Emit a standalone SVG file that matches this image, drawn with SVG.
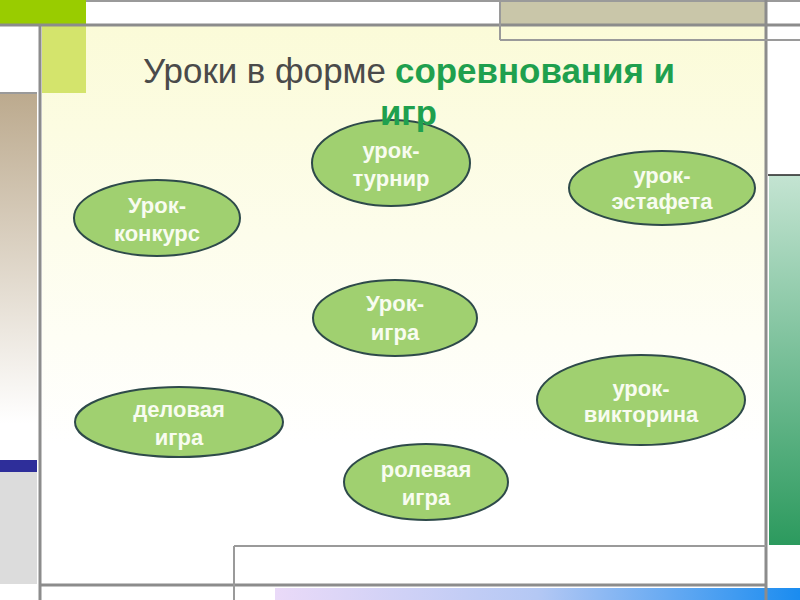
<svg xmlns="http://www.w3.org/2000/svg" width="800" height="600" viewBox="0 0 800 600">
  <defs>
    <linearGradient id="bgMain" x1="0" y1="0" x2="0" y2="1">
      <stop offset="0" stop-color="#fbfbd8"/>
      <stop offset="0.75" stop-color="#ffffff"/>
      <stop offset="1" stop-color="#ffffff"/>
    </linearGradient>
    <linearGradient id="tan" x1="0" y1="0" x2="0" y2="1">
      <stop offset="0" stop-color="#bcaa8e"/>
      <stop offset="0.9" stop-color="#ffffff"/>
      <stop offset="1" stop-color="#ffffff"/>
    </linearGradient>
    <linearGradient id="green" x1="0" y1="0" x2="0" y2="1">
      <stop offset="0" stop-color="#c4e4d2"/>
      <stop offset="1" stop-color="#2c9a5e"/>
    </linearGradient>
    <linearGradient id="bottomBar" x1="0" y1="0" x2="1" y2="0">
      <stop offset="0" stop-color="#eadaf8"/>
      <stop offset="0.5" stop-color="#b4c8f4"/>
      <stop offset="1" stop-color="#1a8cf0"/>
    </linearGradient>
    <style>
      .frame { fill: none; stroke: #8c8c8c; stroke-width: 3; }
      .thin { fill: none; stroke: #9a9a9a; stroke-width: 2; }
      .node ellipse { fill: #a0d070; stroke: #2e4a4a; stroke-width: 2; }
      .node text { fill: #f8fcf0; font-family: "Liberation Sans", Arial, sans-serif; font-weight: bold; font-size: 22px; text-anchor: middle; }
      .title { font-family: "Liberation Sans", Arial, sans-serif; font-size: 35px; }
    </style>
  </defs>

  <!-- background -->
  <rect x="0" y="0" width="800" height="600" fill="#ffffff"/>
  <rect x="42" y="25" width="724" height="559" fill="url(#bgMain)"/>
  <rect x="0" y="0" width="86" height="25" fill="#99cc00"/>
  <rect x="42" y="26" width="44" height="67" fill="#d4e46c"/>
  <rect x="500" y="2" width="266" height="23" fill="#c9c6a9"/>
  <rect x="0" y="94" width="37" height="366" fill="url(#tan)"/>
  <rect x="0" y="460" width="37" height="12" fill="#2e2e9a"/>
  <rect x="0" y="472" width="37" height="112" fill="#dcdcdc"/>
  <rect x="769" y="175" width="31" height="370" fill="url(#green)"/>
  <line x1="768" y1="175" x2="800" y2="175" stroke="#222222" stroke-width="1.5"/>
  <rect x="275" y="588" width="525" height="12" fill="url(#bottomBar)"/>

  <!-- frame lines -->
  <line class="thin" x1="86" y1="1" x2="800" y2="1"/>
  <line class="frame" x1="0" y1="25" x2="800" y2="25"/>
  <line class="frame" x1="40" y1="25" x2="40" y2="600"/>
  <line class="frame" x1="766" y1="0" x2="766" y2="600"/>
  <line class="thin" x1="500" y1="2" x2="500" y2="40"/>
  <line class="thin" x1="500" y1="40" x2="800" y2="40"/>
  <line class="frame" x1="40" y1="585" x2="766" y2="585"/>
  <line class="thin" x1="234" y1="546" x2="766" y2="546"/>
  <line class="thin" x1="234" y1="546" x2="234" y2="600"/>
  <line class="thin" x1="0" y1="93" x2="37" y2="93"/>

  <!-- nodes -->
  <g id="node-turnir" class="node">
    <ellipse cx="391" cy="163" rx="79" ry="43"/>
    <text x="391" y="158">урок-</text>
    <text x="391" y="186">турнир</text>
  </g>
  <g id="node-konkurs" class="node">
    <ellipse cx="157" cy="218" rx="83" ry="38"/>
    <text x="157" y="213">Урок-</text>
    <text x="157" y="241">конкурс</text>
  </g>
  <g id="node-estafeta" class="node">
    <ellipse cx="662" cy="188" rx="93" ry="37"/>
    <text x="662" y="183">урок-</text>
    <text x="662" y="209">эстафета</text>
  </g>
  <g id="node-igra" class="node">
    <ellipse cx="395" cy="318" rx="82" ry="38"/>
    <text x="395" y="311">Урок-</text>
    <text x="395" y="340">игра</text>
  </g>
  <g id="node-viktorina" class="node">
    <ellipse cx="641" cy="400" rx="104" ry="45"/>
    <text x="641" y="396">урок-</text>
    <text x="641" y="422">викторина</text>
  </g>
  <g id="node-delovaya" class="node">
    <ellipse cx="179" cy="422" rx="104" ry="35"/>
    <text x="179" y="417">деловая</text>
    <text x="179" y="445">игра</text>
  </g>
  <g id="node-rolevaya" class="node">
    <ellipse cx="426" cy="482" rx="82" ry="38"/>
    <text x="426" y="477">ролевая</text>
    <text x="426" y="505">игра</text>
  </g>

  <!-- title -->
  <g id="title">
    <text class="title" x="143" y="83" fill="#4a4a4a" textLength="243" lengthAdjust="spacingAndGlyphs">Уроки в форме</text>
    <text class="title" x="395" y="83" fill="#1fa04e" font-weight="bold" textLength="280" lengthAdjust="spacingAndGlyphs">соревнования и</text>
    <text class="title" x="380" y="125" fill="#1fa04e" font-weight="bold" textLength="57" lengthAdjust="spacingAndGlyphs">игр</text>
  </g>
</svg>
